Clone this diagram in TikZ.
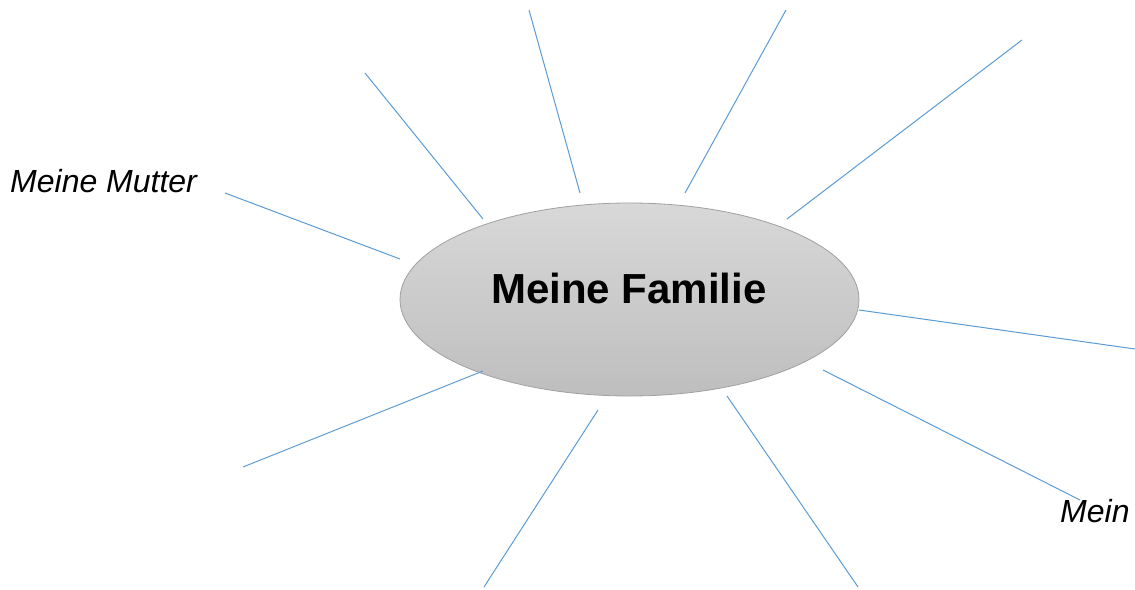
\documentclass[tikz,border=0pt]{standalone}
\usepackage{fontspec}
\setmainfont{Liberation Sans}
\usepackage{xcolor}
\usepackage{tikz}
\usetikzlibrary{shapes.geometric}
\definecolor{rayblue}{HTML}{5B9BD5}
\definecolor{famtop}{HTML}{D8D8D8}
\definecolor{fambot}{HTML}{BEBEBE}
\definecolor{famrim}{HTML}{A0A0A0}
\tikzset{
    ray/.style = {draw=rayblue, line width=1pt},
    famnode/.style = {ellipse, draw=famrim, line width=0.8pt, top color=famtop, bottom color=fambot,
                      minimum width=459pt, minimum height=193pt, inner sep=0pt,
                      font=\fontsize{42}{50}\selectfont\bfseries},
    label_it/.style = {anchor=base west, inner sep=0pt, font=\fontsize{32}{38}\selectfont\itshape}
}

\begin{document}
\begin{tikzpicture}[x=1pt, y=-1pt]
    \useasboundingbox (0,0) rectangle (1135,589);
    \node [famnode] (fam) at (629.5,299.5) {};
    \node [anchor=base, inner sep=0pt, font=\fontsize{42}{50}\selectfont\bfseries] (famtext) at (629,303) {Meine Familie};
    \node [label_it] (mutter) at (10,192) {Meine Mutter};
    \node [label_it] (mein) at (1060,522) {Mein};
    % rays
    \foreach \i/\xa/\ya/\xb/\yb in {1/225/193/400/259, 2/365/73/483/219, 3/529/10/580/193,
                                   4/786/10/685/193, 5/1022/40/787/219, 6/859/310/1135/349,
                                   7/823/370/1080/500, 8/727/396/858/587, 9/598/410/484/587,
                                   10/483/371/243/467}{
        \coordinate (r\i a) at (\xa,\ya);
        \coordinate (r\i b) at (\xb,\yb);
        \draw [ray] (r\i a) -- (r\i b);
    }
\end{tikzpicture}
\end{document}
